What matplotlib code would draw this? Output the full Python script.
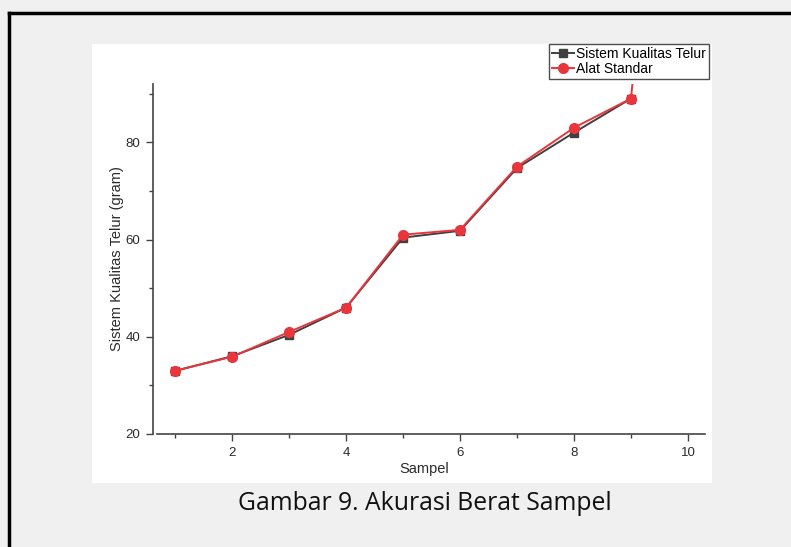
import matplotlib
matplotlib.use("Agg")
import matplotlib.pyplot as plt
from matplotlib.patches import Rectangle
from matplotlib.lines import Line2D
from matplotlib.ticker import MultipleLocator

sampel = [1, 2, 3, 4, 5, 6, 7, 8, 9]
sistem = [33, 36, 40.4, 46, 60.4, 61.8, 74.7, 82, 89]
sampel_alat = [1, 2, 3, 4, 5, 6, 7, 8, 9, 10]
alat = [33, 35.9, 41, 46, 61, 62, 75, 83, 89, 206]

plt.rcParams['font.family'] = ['Liberation Sans', 'DejaVu Sans']

fig = plt.figure(figsize=(7.91, 5.47), dpi=100)
fig.patch.set_facecolor("#f0f0f0")

W, H = 791, 547
# white picture area
fig.patches.append(Rectangle((92 / W, 1 - 483 / H), (712 - 92) / W, (483 - 44) / H,
                             transform=fig.transFigure, facecolor="white", edgecolor="none", zorder=-10))
# black frame lines
fig.lines.append(Line2D([9 / W, 1], [1 - 13 / H, 1 - 13 / H], transform=fig.transFigure, color="black", lw=2.5, zorder=-5))
fig.lines.append(Line2D([9 / W, 9 / W], [0, 1 - 13 / H], transform=fig.transFigure, color="black", lw=2.5, zorder=-5))

ax = fig.add_axes([153 / W, 1 - 434 / H, (705 - 153) / W, (434 - 84) / H])
ax.set_facecolor("none")

ax.plot(sampel, sistem, color="#404040", marker="s", markersize=6, lw=1.4, label="Sistem Kualitas Telur")
ax.plot(sampel_alat, alat, color="#e8363c", marker="o", markersize=7, lw=1.4, label="Alat Standar")

ax.set_xlim(0.61, 10.3)
ax.set_ylim(20, 92)
ax.xaxis.set_major_locator(MultipleLocator(2))
ax.xaxis.set_minor_locator(MultipleLocator(1))
ax.yaxis.set_major_locator(MultipleLocator(20))
ax.yaxis.set_minor_locator(MultipleLocator(10))
ax.spines['top'].set_visible(False)
ax.spines['right'].set_visible(False)
ax.spines['bottom'].set_bounds(0.68, 10.3)
for s in ['left', 'bottom']:
    ax.spines[s].set_color("#444444")
    ax.spines[s].set_linewidth(1.2)
ax.tick_params(which="major", length=5, width=1, color="#444444", labelsize=9.5, labelcolor="#2a2a2a", pad=4)
ax.tick_params(which="minor", length=3, width=1, color="#444444")

ax.set_xlabel("Sampel", fontsize=10.5, color="#2a2a2a")
ax.set_ylabel("Sistem Kualitas Telur (gram)", fontsize=10.5, color="#2a2a2a")
ax.xaxis.set_label_coords(0.5 - 5 / 552, -0.08)
ax.yaxis.set_label_coords(-0.052, 0.5)

leg = fig.legend(loc="upper right", bbox_to_anchor=(709 / W, 1 - 44 / H), fontsize=10,
                 frameon=True, fancybox=False, handlelength=1.6, handletextpad=0.15,
                 borderpad=0.2, labelspacing=0.1, borderaxespad=0)
leg.get_frame().set_edgecolor("#222222")
leg.get_frame().set_linewidth(1)

fig.text(425 / W, 1 - 503 / H, "Gambar 9. Akurasi Berat Sampel", ha="center", va="center",
         fontsize=17.8, family=["Open Sans", "DejaVu Sans"], color="#111111")

fig.savefig("out.png", dpi=100, facecolor=fig.get_facecolor())
